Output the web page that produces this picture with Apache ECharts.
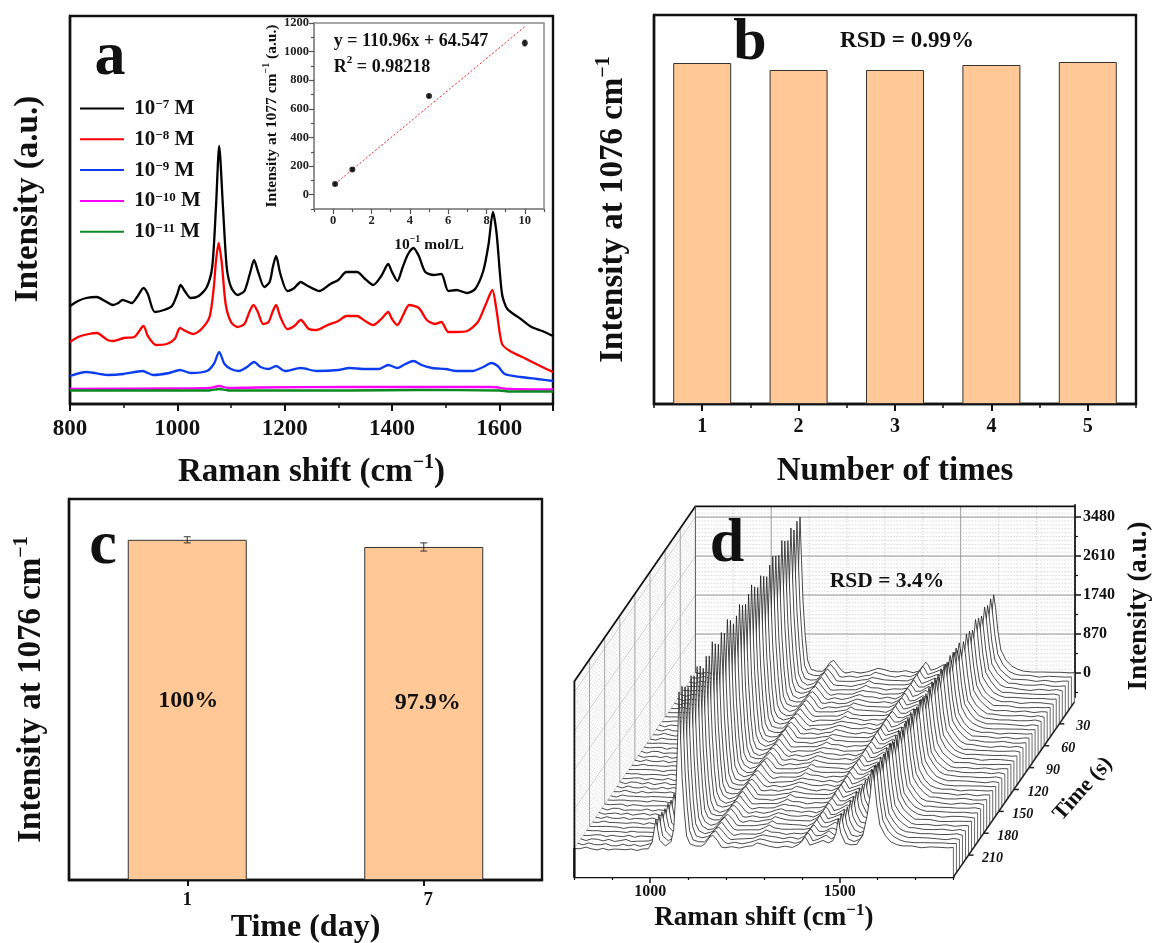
<!DOCTYPE html>
<html><head><meta charset="utf-8"><style>html,body{margin:0;padding:0;background:#fff}#c{width:1152px;height:943px}</style>
<script src="https://cdn.jsdelivr.net/npm/echarts@6/dist/echarts.min.js"></script></head>
<body><div id="c"></div>
<script>
// ---------- panel a ----------
const aBlackX=[800,815,830,850,865,880,890,898,915,925,937,945,958,975,990,1000,1006,1015,1025,1040,1055,1065,1072,1078,1085,1092,1100,1112,1125,1135,1143,1150,1162,1172,1178,1184,1192,1205,1218,1230,1240,1265,1285,1300,1315,1335,1350,1365,1380,1393,1400,1410,1420,1430,1440,1450,1462,1478,1492,1505,1520,1540,1555,1570,1580,1588,1595,1605,1615,1640,1660,1680,1700];
const aBlackY=[98,103,106,107,103,99,101,104,101,107,116,110,92,94,98,110,119,112,106,108,117,137,197,258,197,137,117,109,113,130,144,133,117,122,137,148,130,113,116,122,119,113,120,124,132,132,125,119,128,140,132,123,137,150,156,148,132,129,130,113,114,111,115,133,160,192,170,110,95,85,77,73,68];
const aRedX=[800,815,835,850,870,880,900,920,937,945,960,980,995,1005,1015,1030,1045,1060,1068,1072,1077,1083,1090,1100,1112,1125,1135,1142,1150,1160,1170,1178,1184,1192,1205,1218,1230,1245,1260,1280,1300,1315,1335,1350,1365,1380,1393,1400,1410,1420,1432,1450,1465,1480,1492,1505,1520,1540,1560,1575,1587,1595,1605,1620,1650,1680,1700];
const aRedY=[62,67,70,71,64,63,66,67,78,68,59,60,65,76,73,70,75,87,117,143,161,140,100,82,77,80,93,99,92,80,82,93,99,87,75,78,84,75,74,79,83,88,88,83,79,85,92,85,79,88,99,96,84,80,82,72,72,73,82,100,114,93,60,53,45,37,32];
const aBlueX=[800,830,870,900,935,955,985,1005,1025,1055,1068,1078,1088,1100,1115,1130,1143,1155,1170,1184,1200,1230,1260,1300,1320,1350,1375,1393,1410,1425,1440,1455,1475,1500,1520,1550,1570,1585,1597,1610,1640,1670,1700];
const aBlueY=[28,32,29,30,33,29,31,34,31,33,40,52,40,35,33,37,42,37,35,38,33,36,33,34,36,35,35,39,36,40,43,39,36,35,33,33,37,41,38,30,27,25,23];
const aMagentaX=[800,1000,1060,1078,1095,1150,1320,1395,1440,1585,1620,1700];
const aMagentaY=[15,15.5,16,18,16,16.5,17,17,17,17,15,14.5];
const aGreenX=[800,1060,1078,1095,1320,1450,1600,1620,1700];
const aGreenY=[13.5,13.5,15,13.5,13.5,14,13.5,12.5,12.5];
const aNames=['10^-7 M','10^-8 M','10^-9 M','10^-10 M','10^-11 M'];
const aColors=['#000000','#ff0000','#0a3cf0','#ff00ff','#0a8a1e'];
// ---------- inset ----------
const inX=[0.1,1,5,10];
const inY=[74,176,690,1060];
const inErr=[8,8,8,20];
const inFitX=[0.1,10];
const inFitY=[75.6,1174.1];
const inYLabels=[0,200,400,600,800,1000,1200];
const inXLabels=[0,2,4,6,8,10];
const inYMinor=[-100,100,300,500,700,900,1100];
const inXMinor=[-1,1,3,5,7,9,11];
// ---------- panel b ----------
const bCats=['1','2','3','4','5'];
const bVals=[341,334,334,339,342];
// ---------- panel c ----------
const cCats=['1','7'];
const cVals=[100,97.9];
const cErr=[0.9,1.2];
// ---------- panel d ----------
const dShift=[800,815,830,845,860,875,890,905,920,935,950,965,980,995,1005,1015,1025,1040,1055,1062,1068,1072,1076,1080,1084,1090,1096,1105,1120,1135,1145,1155,1165,1178,1188,1197,1215,1235,1255,1270,1282,1295,1315,1335,1355,1375,1390,1400,1408,1414,1421,1435,1456,1470,1482,1490,1496,1503,1515,1530,1545,1561,1572,1580,1587,1592,1598,1606,1620,1635,1650,1665,1690,1715,1740,1765,1785,1800];
const dInt=[0,-20,5,-10,-30,-15,-40,-35,-20,-45,-30,-50,-35,-5,120,620,180,60,130,420,1300,2300,3480,2500,1600,800,280,90,30,50,110,220,290,150,30,0,20,5,25,60,110,70,45,20,35,15,60,150,245,170,70,90,180,110,150,330,670,320,110,60,90,280,700,1150,1740,1450,950,500,290,150,70,50,35,15,20,5,10,0];
const dWiggle=[9,-6,12,-11,4,15,-8,-14,7,-3,11,-9,5];
const dTimes=[0,6,12,18,24,30,36,42,48,54,60,66,72,78,84,90,96,102,108,114,120,126,132,138,144,150,156,162,168,174,180,186,192,198,204,210,216,222,228,234,240];
const dFactors=[1,1,0.97,1.01,0.96,0.99,1.02,0.95,0.98,1,0.97,0.93,0.96,0.99,0.94,0.97,1.01,0.98,0.95,0.97,1,0.96,0.93,0.98,1.02,0.96,0.99,0.94,0.97,1.01,0.95,0.98,0.93,0.97,1,0.96,0.99,0.95,0.98,1.01,1];
const dTimeLabels=[30,60,90,120,150,180,210];
const dIntLabels=[0,870,1740,2610,3480];
const dIntMinor=[-435,435,1305,2175,3045];
const dWallShiftMajor=[1000,1500];
const dWallShiftMinor=[900,1100,1200,1300,1400,1600,1700];
const dWallLevels=[87,174,261,348,435,522,609,696,783,957,1044,1131,1218,1305,1392,1479,1566,1653,1827,1914,2001,2088,2175,2262,2349,2436,2523,2697,2784,2871,2958,3045,3132,3219,3306,3393,3567,3654];

const serif='"Liberation Serif","Times New Roman",serif';
const B=(size,extra)=>Object.assign({fontFamily:serif,fontWeight:'bold',fontSize:size,color:'#111'},extra||{});
const richSup=(size,lh)=>({b:B(size,{lineHeight:lh||size+6}),s:B(Math.round(size*0.62),{verticalAlign:'top',lineHeight:lh||size+6})});
const supText=(a,s,z)=>'{b|'+a+'}{s|'+s+'}'+(z?'{b|'+z+'}':'');
const plain=v=>String(v);

const line=(pts,style)=>({type:'polyline',shape:{points:pts},style:Object.assign({fill:null,stroke:'#999',lineWidth:1},style),silent:true});
const FRONT=240, DX=121/0.379/240, DY=175/0.0448/240, FLOOR=-647;
const proj=(api,cm,t,I)=>api.coord([cm+(FRONT-t)*DX, I+(FRONT-t)*DY]);

function wallsRender(p,api){
  const ch=[]; const top=3720;
  dWallShiftMinor.forEach(c=>ch.push(line([proj(api,c,0,0),proj(api,c,0,top)],{stroke:'#c4c4c4',lineWidth:0.7,lineDash:[1.5,1.5]})));
  dWallLevels.forEach(v=>ch.push(line([proj(api,800,0,v),proj(api,1800,0,v)],{stroke:'#c8c8c8',lineWidth:0.7,lineDash:[1.5,1.5]})));
  dIntLabels.forEach(v=>ch.push(line([proj(api,800,0,v),proj(api,1800,0,v)],{stroke:'#8e8e8e',lineWidth:1})));
  dWallShiftMajor.forEach(c=>ch.push(line([proj(api,c,0,0),proj(api,c,0,top)],{stroke:'#9a9a9a',lineWidth:1})));
  dWallLevels.forEach(v=>ch.push(line([proj(api,800,0,v),proj(api,800,FRONT,v)],{stroke:'#c8c8c8',lineWidth:0.7,lineDash:[1.5,1.5]})));
  dIntLabels.forEach(v=>ch.push(line([proj(api,800,0,v),proj(api,800,FRONT,v)],{stroke:'#bdbdbd',lineWidth:0.8})));
  dTimeLabels.forEach(t=>ch.push(line([proj(api,800,t,0),proj(api,800,t,top)],{stroke:'#a4a4a4',lineWidth:1})));
  ch.push(line([proj(api,800,FRONT,FLOOR),proj(api,800,FRONT,top),proj(api,800,0,top),proj(api,1800,0,top)],{stroke:'#111',lineWidth:1.8}));
  ch.push(line([proj(api,800,0,0),proj(api,800,0,top)],{stroke:'#555',lineWidth:1}));
  return {type:'group',children:ch};
}
function spectrumRender(p,api){
  const t=api.value(0), f=api.value(1), idx=p.dataIndex;
  const pts=dShift.map((c,k)=>proj(api,c,t,dInt[k]*f+dWiggle[(k+idx*3)%dWiggle.length]));
  const last=proj(api,1800,t,FLOOR), first=proj(api,800,t,FLOOR);
  return {type:'group',children:[
    {type:'polygon',shape:{points:pts.concat([last,first])},style:{fill:'#fff',stroke:null},silent:true},
    line(pts,{stroke:'#1c1c1c',lineWidth:0.8}),
    line([pts[pts.length-1],last],{stroke:'#444',lineWidth:0.8})
  ]};
}
function timeAxisRender(p,api){
  const t=api.value(0), e=proj(api,1800,t,FLOOR);
  return {type:'group',children:[
    line([e,[e[0]+5,e[1]]],{stroke:'#222',lineWidth:1.5}),
    {type:'text',silent:true,style:{text:String(t),x:e[0]+24,y:e[1]+3,align:'center',verticalAlign:'middle',font:'italic bold 14px '+serif,fill:'#111'}}
  ]};
}
function floorEdgeRender(p,api){
  return {type:'group',children:[
    line([proj(api,1800,0,FLOOR),proj(api,1800,FRONT,FLOOR)],{stroke:'#222',lineWidth:1.5}),
    line([proj(api,800,FRONT,0),proj(api,800,FRONT,FLOOR)],{stroke:'#111',lineWidth:2.4})
  ]};
}
const errRender=cap=>function(p,api){
  const x=api.value(0), a=api.coord([x,api.value(1)]), b=api.coord([x,api.value(2)]);
  return {type:'group',children:[
    line([a,b],{stroke:'#333',lineWidth:1}),
    line([[a[0]-cap,a[1]],[a[0]+cap,a[1]]],{stroke:'#333',lineWidth:1}),
    line([[b[0]-cap,b[1]],[b[0]+cap,b[1]]],{stroke:'#333',lineWidth:1})
  ]};
};
const T=(x,y,text,size,o)=>Object.assign({type:'text',x:x,y:y,silent:true,z:50,style:{text:text,align:'center',verticalAlign:'middle',fontFamily:serif,fontWeight:'bold',fontSize:size,fill:'#111',rich:richSup(size)}},o||{});

const axLine={show:true,onZero:false,lineStyle:{color:'#111',width:2.4}};
const grayLine={show:true,onZero:false,lineStyle:{color:'#8a8a8a',width:1.5}};
const noAx={show:false};
const noLine={show:false,onZero:false};
const boxed={show:true,borderColor:'#111',borderWidth:2.4,backgroundColor:'transparent',outerBoundsMode:'none'};
const grids=[
  Object.assign({left:70,top:16,width:483,height:388},boxed),
  Object.assign({left:314,top:23,width:230,height:186},boxed,{borderColor:'#8a8a8a',borderWidth:1.5}),
  Object.assign({left:654,top:15,width:482,height:389},boxed),
  Object.assign({left:69,top:499,width:473,height:381},boxed),
  {left:574.4,top:505,width:379,height:372,show:false,outerBoundsMode:'none'},
  {left:695,top:505,width:380,height:192,show:false,outerBoundsMode:'none'}
];
const grayTick=(len)=>({show:true,length:len,lineStyle:{color:'#555',width:1.2}});
const inLabel={fontFamily:serif,fontWeight:'bold',fontSize:12.5,color:'#222',margin:5,formatter:plain};
const cAxisData=cCats.map((c,i)=>i===1?{value:c,textStyle:{padding:[0,0,0,9]}}:c);
const xAxes=[
  {gridIndex:0,type:'value',min:800,max:1700,interval:200,axisLine:axLine,splitLine:noAx,
   axisTick:{show:true,length:7,lineStyle:{color:'#111',width:2}},minorTick:{show:true,splitNumber:2,length:4,lineStyle:{color:'#111',width:1.5}},
   axisLabel:B(23,{margin:14,showMaxLabel:false,formatter:plain}),name:supText('Raman shift (cm','−1',')'),nameLocation:'middle',nameGap:49,nameTextStyle:{rich:richSup(33)}},
  {gridIndex:1,type:'value',position:'bottom',min:-1,max:11,axisLine:grayLine,splitLine:noAx,
   axisTick:Object.assign(grayTick(5),{customValues:inXLabels}),axisLabel:Object.assign({customValues:inXLabels},inLabel),
   name:supText('10','−1',' mol/L'),nameLocation:'middle',nameGap:25,nameTextStyle:{rich:richSup(15.5)}},
  {gridIndex:1,type:'value',position:'bottom',min:-1,max:11,axisLine:noLine,splitLine:noAx,axisTick:Object.assign(grayTick(3),{customValues:inXMinor}),axisLabel:noAx},
  {gridIndex:2,type:'category',position:'bottom',data:bCats,axisLine:axLine,axisTick:{show:true,alignWithLabel:true,length:7,lineStyle:{color:'#111',width:2}},
   axisLabel:B(20,{margin:13}),name:'Number of times',nameLocation:'middle',nameGap:50.5,nameTextStyle:B(33)},
  {gridIndex:2,type:'category',data:bCats,position:'bottom',axisLine:noLine,axisLabel:noAx,axisTick:{show:true,length:4,lineStyle:{color:'#111',width:1.5}}},
  {gridIndex:3,type:'category',position:'bottom',data:cAxisData,axisLine:axLine,axisTick:{show:true,alignWithLabel:true,length:6,lineStyle:{color:'#111',width:2}},
   axisLabel:B(19,{margin:11}),name:'Time (day)',nameLocation:'middle',nameGap:32,nameTextStyle:B(32)},
  {gridIndex:4,type:'value',position:'bottom',min:800,max:1800,axisLine:axLine,splitLine:noAx,axisTick:{show:true,length:6,customValues:[1000,1500],lineStyle:{color:'#111',width:1.5}},
   axisLabel:B(16,{margin:7,customValues:[1000,1500],formatter:plain}),name:supText('Raman shift (cm','−1',')'),nameLocation:'middle',nameGap:25,nameTextStyle:{rich:richSup(27)}},
  {gridIndex:4,type:'value',position:'bottom',min:800,max:1800,axisLine:noLine,splitLine:noAx,axisTick:{show:true,length:3,customValues:[800,900,1100,1200,1300,1400,1600,1700,1800],lineStyle:{color:'#111',width:1.2}},axisLabel:noAx},
  {gridIndex:5,type:'value',position:'bottom',min:800,max:1800,show:false}
];
const yAxes=[
  {gridIndex:0,type:'value',position:'left',min:0,max:388,axisLine:axLine,axisTick:noAx,axisLabel:noAx,splitLine:noAx,name:'Intensity (a.u.)',nameLocation:'middle',nameGap:25.5,nameTextStyle:B(33,{padding:[0,0,0,22]})},
  {gridIndex:1,type:'value',position:'left',min:-100,max:1200,axisLine:grayLine,splitLine:noAx,
   axisTick:Object.assign(grayTick(5),{customValues:inYLabels}),axisLabel:Object.assign({customValues:inYLabels},inLabel),
   name:supText('Intensity at 1077 cm','−1',' (a.u.)'),nameLocation:'middle',nameGap:28,nameTextStyle:{rich:richSup(15.5)}},
  {gridIndex:1,type:'value',position:'left',min:-100,max:1200,axisLine:noLine,splitLine:noAx,axisTick:Object.assign(grayTick(3),{customValues:inYMinor}),axisLabel:noAx},
  {gridIndex:2,type:'value',position:'left',min:0,max:389,axisLine:axLine,axisTick:noAx,axisLabel:noAx,splitLine:noAx,name:supText('Intensity at 1076 cm','−1'),nameLocation:'middle',nameGap:21,nameTextStyle:{rich:richSup(33)}},
  {gridIndex:3,type:'value',position:'left',min:0,max:112,axisLine:axLine,axisTick:noAx,axisLabel:noAx,splitLine:noAx,name:supText('Intensity at 1076 cm','−1'),nameLocation:'middle',nameGap:18,nameTextStyle:{rich:richSup(33)}},
  {gridIndex:4,type:'value',min:FLOOR,max:7656,show:false},
  {gridIndex:5,type:'value',position:'right',min:-536,max:3750,axisLine:{show:true,onZero:false,lineStyle:{color:'#111',width:1.8}},splitLine:noAx,
   axisTick:{show:true,length:6,customValues:dIntLabels,lineStyle:{color:'#111',width:1.5}},axisLabel:B(16,{margin:8,customValues:dIntLabels,formatter:plain}),
   name:'Intensity (a.u.)',nameLocation:'middle',nameGap:50.5,nameRotate:90,nameTextStyle:B(27,{padding:[0,10,0,0]})},
  {gridIndex:5,type:'value',position:'right',min:-536,max:3750,axisLine:noLine,splitLine:noAx,axisTick:{show:true,length:3,customValues:dIntMinor,lineStyle:{color:'#111',width:1.2}},axisLabel:noAx}
];
const zip=(a,b)=>a.map((v,i)=>[v,b[i]]);
const aSeries=[[aBlackX,aBlackY],[aRedX,aRedY],[aBlueX,aBlueY],[aMagentaX,aMagentaY],[aGreenX,aGreenY]].map((s,i)=>({
  name:aNames[i],type:'line',xAxisIndex:0,yAxisIndex:0,data:zip(s[0],s[1]),symbol:'none',smooth:0.25,
  lineStyle:{color:aColors[i],width:2.3},itemStyle:{color:aColors[i]},z:3,silent:true}));
const barStyle={color:'#FFC896',borderColor:'#333',borderWidth:1};
const cOffsets=[[1,-9],[4,-11]];
const series=aSeries.concat([
  {type:'line',xAxisIndex:1,yAxisIndex:1,data:zip(inFitX,inFitY),symbol:'none',lineStyle:{color:'#ff2020',width:1,type:[2,2]},z:4,silent:true},
  {type:'custom',xAxisIndex:1,yAxisIndex:1,renderItem:errRender(1.5),data:inX.map((x,i)=>[x,inY[i]-inErr[i],inY[i]+inErr[i]]),z:5,silent:true},
  {type:'scatter',xAxisIndex:1,yAxisIndex:1,data:zip(inX,inY),symbolSize:6,itemStyle:{color:'#000'},z:6,silent:true},
  {type:'bar',xAxisIndex:3,yAxisIndex:3,data:bVals,barWidth:58,itemStyle:barStyle,silent:true},
  {type:'bar',xAxisIndex:5,yAxisIndex:4,barWidth:119,itemStyle:barStyle,silent:true,
   data:cVals.map((v,i)=>({value:v,label:{offset:cOffsets[i]}})),
   label:{show:true,position:'inside',formatter:o=>o.value+'%',fontFamily:serif,fontWeight:'bold',fontSize:24,color:'#111'}},
  {type:'custom',xAxisIndex:5,yAxisIndex:4,renderItem:errRender(3.5),data:cVals.map((v,i)=>[i,v-cErr[i],v+cErr[i]]),z:5,silent:true},
  {type:'custom',xAxisIndex:6,yAxisIndex:5,renderItem:wallsRender,data:[[0,0]],clip:false,z:3,silent:true},
  {type:'custom',xAxisIndex:6,yAxisIndex:5,renderItem:spectrumRender,data:dTimes.map((t,i)=>[t,dFactors[i]]),clip:false,z:4,silent:true},
  {type:'custom',xAxisIndex:6,yAxisIndex:5,renderItem:floorEdgeRender,data:[[0,0]],clip:false,z:5,silent:true},
  {type:'custom',xAxisIndex:6,yAxisIndex:5,renderItem:timeAxisRender,data:dTimeLabels.map(t=>[t,0]),clip:false,z:5,silent:true}
]);
const legendFmt=n=>{const m=n.match(/^10\^(-\d+) M$/);return '{b| }'+supText('10',m[1].replace('-','−'),' M');};
const chart=echarts.init(document.getElementById('c'),null,{renderer:'canvas'});
chart.setOption({
  animation:false,backgroundColor:'#fff',tooltip:{show:false},
  grid:grids,xAxis:xAxes,yAxis:yAxes,series:series,
  legend:{data:aNames,orient:'vertical',left:80,top:98,padding:0,itemWidth:44,itemHeight:20,itemGap:9.8,selectedMode:false,icon:'path://M0 9 H44 V11 H0 Z',
    formatter:legendFmt,textStyle:{rich:richSup(21,20)}},
  graphic:[
    T(110,58,'a',62),T(750,43,'b',60),T(103,547,'c',62),T(727,545,'d',62),
    T(411,41,'y = 110.96x + 64.547',18),
    T(382,67,'R{s|2} = 0.98218',18),
    T(907,41,'RSD = 0.99%',23),
    T(887,581,'RSD = 3.4%',21.5),
    T(1083,789,'Time (s)',22,{rotation:0.84})
  ]
});
</script></body></html>
